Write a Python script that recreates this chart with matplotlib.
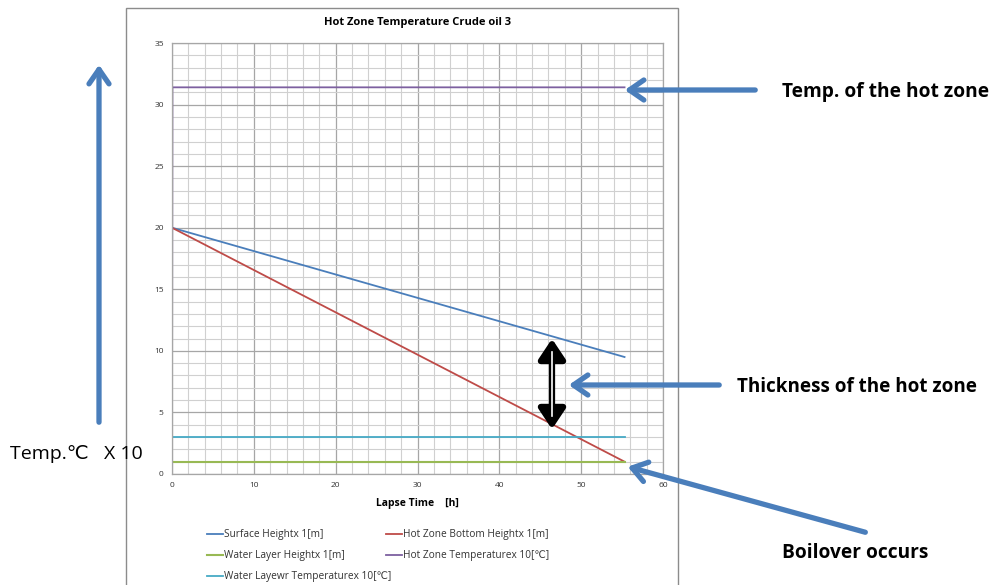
import numpy as np
import matplotlib
matplotlib.use("Agg")
import matplotlib.pyplot as plt
from matplotlib.patches import Rectangle, FancyArrowPatch

# Data (hours, value)
time_h = [0, 55.3]
surface_height = [20.0, 9.5]
hot_zone_bottom = [20.0, 1.0]
water_layer_height = [1.0, 1.0]
water_layer_temp = [3.0, 3.0]
hot_zone_temp_time = [0, 0.05, 55.3]
hot_zone_temp = [3.0, 31.4, 31.4]

labels = ["Surface Heightx 1[m]", "Hot Zone Bottom Heightx 1[m]",
          "Water Layer Heightx 1[m]", "Hot Zone Temperaturex 10[\u2103]",
          "Water Layewr Temperaturex 10[\u2103]"]
colors = ["#4a7ebb", "#be4b48", "#98b954", "#7d60a0", "#46aac5"]

W, H = 994, 585
plt.rcParams['font.family'] = ['Open Sans', 'DejaVu Sans']
fig = plt.figure(figsize=(W / 100, H / 100), dpi=100)

def px(x, y):
    return (x / W, 1 - y / H)

# chart frame
fig.patches.append(Rectangle(px(126, 640), 552 / W, 632 / H, transform=fig.transFigure,
                             fill=False, ec="#8c8c8c", lw=1.0))

ax = fig.add_axes([172 / W, 1 - 474 / H, 491 / W, 431 / H])
l1, = ax.plot(time_h, surface_height, color=colors[0], lw=1.3)
l2, = ax.plot(time_h, hot_zone_bottom, color=colors[1], lw=1.3)
l3, = ax.plot(time_h, water_layer_height, color=colors[2], lw=1.5)
l4, = ax.plot(hot_zone_temp_time, hot_zone_temp, color=colors[3], lw=1.3)
l5, = ax.plot(time_h, water_layer_temp, color=colors[4], lw=1.3)

ax.set_xlim(0, 60)
ax.set_ylim(0, 35)
ax.set_xticks(np.arange(0, 61, 10))
ax.set_yticks(np.arange(0, 36, 5))
ax.set_xticks(np.arange(0, 61, 2), minor=True)
ax.set_yticks(np.arange(0, 36, 1), minor=True)
ax.grid(which="major", color="#a6a6a6", lw=0.9)
ax.grid(which="minor", color="#d0d0d0", lw=0.8)
ax.set_axisbelow(True)
ax.tick_params(which="both", length=0, labelsize=6, pad=6, colors="#333333")
for s in ax.spines.values():
    s.set_color("#a6a6a6")
    s.set_linewidth(0.9)
ax.set_title("Hot Zone Temperature Crude oil 3", fontsize=8, fontweight="bold", pad=13)
ax.set_xlabel("Lapse Time    [h]", fontsize=7.5, fontweight="bold", labelpad=6)

fig.legend([l1, l3, l5, l2, l4],
           [labels[0], labels[2], labels[4], labels[1], labels[3]],
           ncol=2, loc="upper left", bbox_to_anchor=px(198, 520), frameon=False,
           fontsize=7.3, handlelength=1.6, handletextpad=0.1, columnspacing=-0.6,
           labelspacing=1.0, labelcolor="#333333")

# annotations
blue = "#4a7ebb"
def arrow(x0, y0, x1, y1):
    fig.patches.append(FancyArrowPatch(px(x0, y0), px(x1, y1), transform=fig.transFigure,
                                       arrowstyle="->,head_length=6.5,head_width=4.5",
                                       color=blue, lw=3.8, mutation_scale=1.6,
                                       capstyle="round", joinstyle="round"))

arrow(99, 425, 99, 62)
arrow(758, 90, 622, 90)
arrow(722, 385, 566, 385)
arrow(868, 533, 625, 466)

# black double arrow (thickness)
fig.patches.append(FancyArrowPatch(px(552, 336), px(552, 432), transform=fig.transFigure,
                                   arrowstyle="<|-|>,head_length=6,head_width=4",
                                   color="black", lw=4.5, mutation_scale=2))
fig.lines.append(plt.Line2D([552 / W, 552 / W], [1 - 352 / H, 1 - 416 / H],
                            transform=fig.transFigure, color="white", lw=1.2))

fig.text(*px(782, 92), "Temp. of the hot zone", fontsize=13.8, fontweight="bold",
         va="center", ha="left")
fig.text(*px(737, 387), "Thickness of the hot zone", fontsize=13.6, fontweight="bold",
         va="center", ha="left")
fig.text(*px(782, 553), "Boilover occurs", fontsize=13.8, fontweight="bold",
         va="center", ha="left")
fig.text(*px(10, 454), "Temp.\u2103   X 10", fontsize=14, va="center", ha="left")

fig.savefig("out.png", dpi=100)
